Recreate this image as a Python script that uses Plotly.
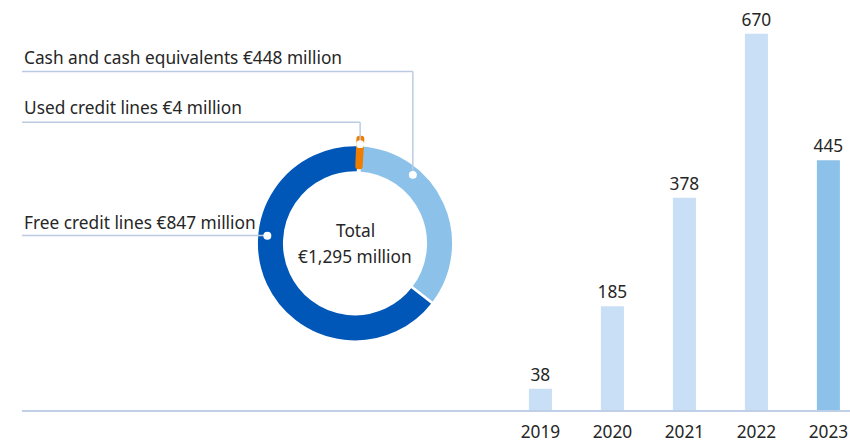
import math
import plotly.graph_objects as go

# Liquidity composition, € million
liq_labels = ["Cash and cash equivalents", "Free credit lines", "Used credit lines"]
liq_values = [448, 847, 4]
liq_total = 1295
liq_colors = ["#8cc2ea", "#0057b8", "#ef7d00"]

# Cash and cash equivalents by year, € million
years = ["2019", "2020", "2021", "2022", "2023"]
cash_values = [38, 185, 378, 670, 445]
bar_colors = ["#c9dff5", "#c9dff5", "#c9dff5", "#c9dff5", "#8cc2ea"]

W, H = 850, 443
FONT = "Noto Sans"
FS = 17.3
TXT = "#262626"
LEAD = "#bccbe4"


def px(x):
    return x / W


def py(y):
    return 1 - y / H


fig = go.Figure()

# ---- bar chart -------------------------------------------------------
fig.add_trace(go.Bar(
    x=years, y=cash_values,
    marker=dict(color=bar_colors, line=dict(width=0)),
    text=[str(v) for v in cash_values], textposition="outside",
    constraintext="none",
    textfont=dict(family=FONT, size=FS, color=TXT),
    cliponaxis=False, hoverinfo="skip", width=0.32,
))

# ---- donut -----------------------------------------------------------
CX, CY, R = 355, 245, 99
PULL = 0.065
HOLE = 0.72
ROT = 3.5
half = R * (1 + PULL)
fig.add_trace(go.Pie(
    values=liq_values, labels=liq_labels, sort=False, direction="clockwise",
    rotation=ROT, hole=HOLE, pull=[0, 0, PULL],
    marker=dict(colors=liq_colors,
                line=dict(color=["white", "white", liq_colors[2]], width=[2.5, 2.5, 6])),
    textinfo="none", hoverinfo="skip", showlegend=False,
    domain=dict(x=[px(CX - half), px(CX + half)], y=[py(CY + half), py(CY - half)]),
))

fig.add_annotation(x=px(CX), y=py(CY - 13), xref="paper", yref="paper",
                   text="Total", showarrow=False,
                   font=dict(family=FONT, size=FS, color=TXT))
fig.add_annotation(x=px(CX), y=py(CY + 13), xref="paper", yref="paper",
                   text=f"€{liq_total:,} million", showarrow=False,
                   font=dict(family=FONT, size=FS, color=TXT))


# ---- leader lines and labels -----------------------------------------
def ring_point(angle_deg, r):
    a = math.radians(angle_deg)
    return CX + r * math.sin(a), CY - r * math.cos(a)


orange_mid = ROT - 360 * liq_values[2] / sum(liq_values) / 2
leaders = [
    # label index, anchor angle, anchor radius, label y, line y
    (0, 40, 90, 58, 72),
    (2, orange_mid, 100, 108, 123),
    (1, 275, 88, 224, 237),
]
LX = 22
shapes = []
for idx, ang, rad, ty, ly in leaders:
    ax, ay = ring_point(ang, rad)
    fig.add_annotation(x=px(LX), y=py(ty), xref="paper", yref="paper",
                       xanchor="left", yanchor="middle", showarrow=False,
                       text=f"{liq_labels[idx]} €{liq_values[idx]:,} million",
                       font=dict(family=FONT, size=FS, color=TXT))
    shapes.append(dict(type="line", xref="paper", yref="paper",
                       x0=px(LX), y0=py(ly), x1=px(ax), y1=py(ly),
                       line=dict(color=LEAD, width=1.5)))
    if abs(ay - ly) > 1:
        shapes.append(dict(type="line", xref="paper", yref="paper",
                           x0=px(ax), y0=py(ly), x1=px(ax), y1=py(ay),
                           line=dict(color=LEAD, width=1.5)))
    rr = 4
    shapes.append(dict(type="circle", xref="paper", yref="paper",
                       x0=px(ax - rr), x1=px(ax + rr), y0=py(ay + rr), y1=py(ay - rr),
                       fillcolor="white", line=dict(width=0)))

fig.update_layout(
    width=W, height=H, margin=dict(l=0, r=0, t=0, b=0),
    paper_bgcolor="white", plot_bgcolor="white",
    showlegend=False, bargap=0.68, shapes=shapes,
    xaxis=dict(domain=[px(LX), 1], type="category", range=[-7.2, 4.3],
               showline=True, linecolor="#bfcfe8", linewidth=2,
               showgrid=False, zeroline=False, ticks="", ticklabelstandoff=5,
               tickfont=dict(family=FONT, size=FS, color=TXT), fixedrange=True),
    yaxis=dict(domain=[(H - 413) / H, 1], range=[0, 730], visible=False,
               fixedrange=True),
)

fig.write_html("out.html")
